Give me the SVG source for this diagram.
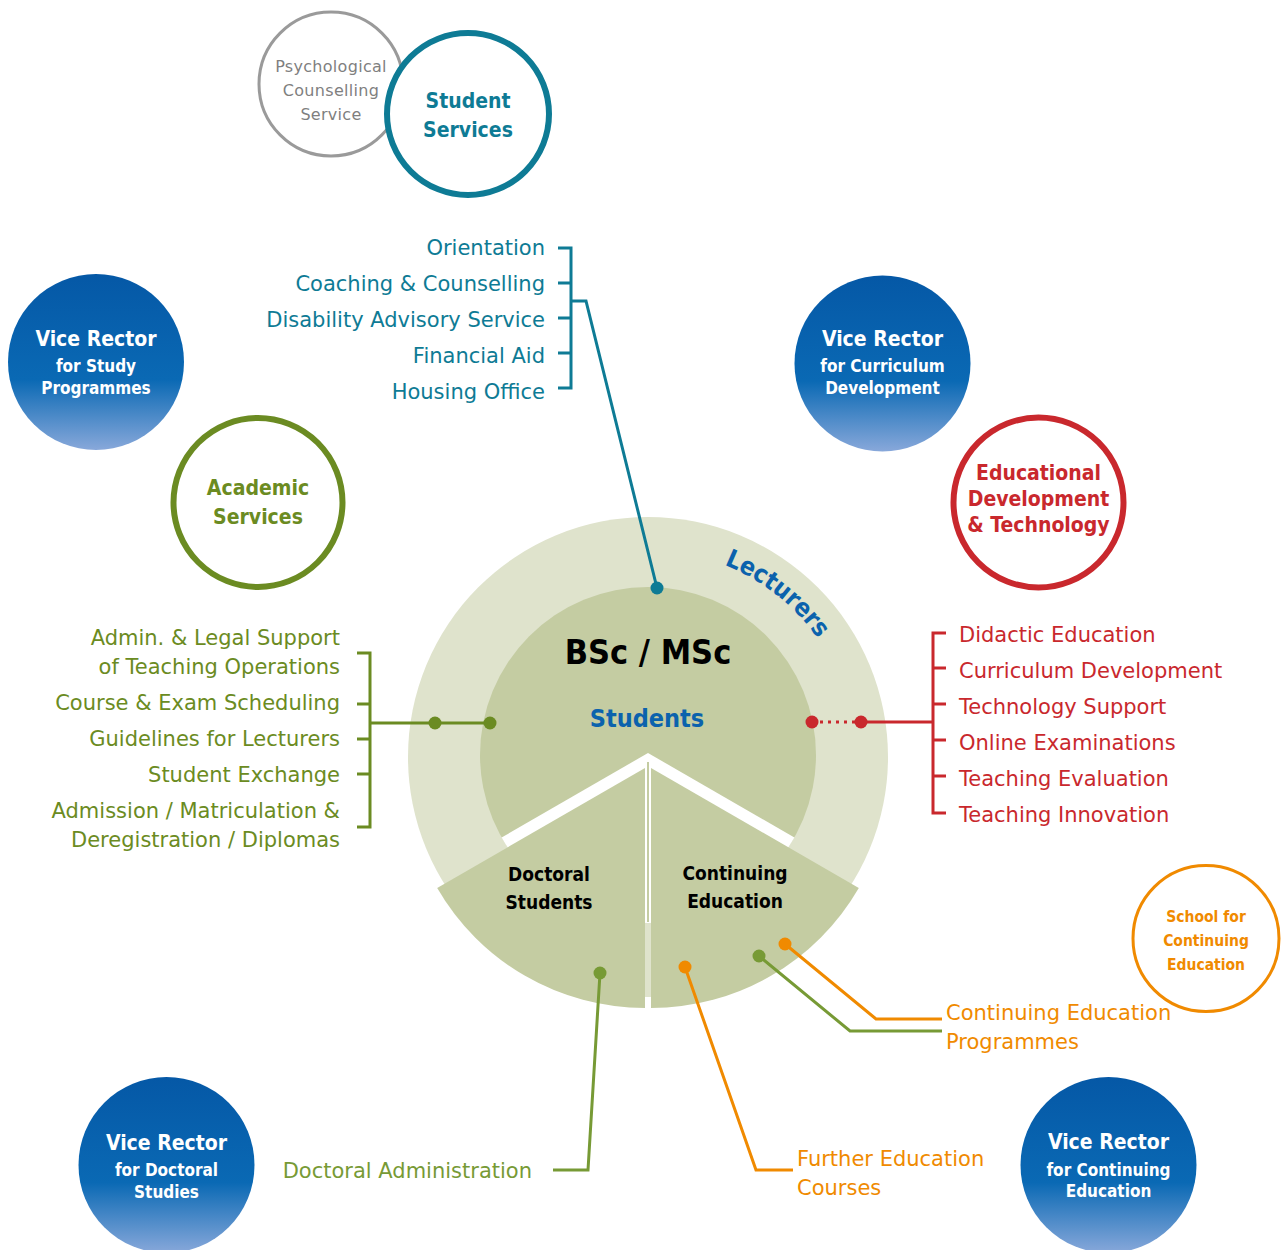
<svg xmlns="http://www.w3.org/2000/svg" width="1284" height="1250" viewBox="0 0 1284 1250">
<style>
.reg{font-family:"DejaVu Sans","Liberation Sans",sans-serif;font-size:21px}
.bold{font-family:"DejaVu Sans Condensed","DejaVu Sans","Liberation Sans",sans-serif;font-stretch:condensed;font-weight:bold}
.teal{fill:#0e7b95}.olive{fill:#6b8b22}.red{fill:#c9282d}.orange{fill:#f08a00}.blue{fill:#0b62ad}.lolive{fill:#779a35}
.vr{fill:#fff;text-anchor:middle}
.ln{fill:none;stroke-width:3;stroke-linejoin:miter}
</style>
<defs>
<linearGradient id="vrg" x1="0" y1="0" x2="0" y2="1">
<stop offset="0" stop-color="#0558a6"/>
<stop offset="0.6" stop-color="#0a69b4"/>
<stop offset="1" stop-color="#88a8da"/>
</linearGradient>
<path id="lecArc" d="M724.3,564.9 A207,207 0 0,1 842.5,686.2"/>
</defs>

<!-- top: student services -->
<g id="psych">
<circle cx="331" cy="84" r="72" fill="#fff" stroke="#9a9a9a" stroke-width="3"/>
<g class="reg" style="font-size:16px;fill:#7f7f7f;text-anchor:middle;letter-spacing:0.3px">
<text x="331" y="72">Psychological</text>
<text x="331" y="96">Counselling</text>
<text x="331" y="120">Service</text>
</g>
</g>
<g id="student-services">
<circle cx="468" cy="114" r="81" fill="#fff" stroke="#0e7b95" stroke-width="6"/>
<g class="bold teal" style="font-size:21px;text-anchor:middle">
<text x="468" y="108">Student</text>
<text x="468" y="137">Services</text>
</g>
</g>

<g id="teal-list" class="reg teal" style="text-anchor:end">
<text x="545" y="255">Orientation</text>
<text x="545" y="291">Coaching &amp; Counselling</text>
<text x="545" y="327">Disability Advisory Service</text>
<text x="545" y="363">Financial Aid</text>
<text x="545" y="399">Housing Office</text>
</g>

<!-- vice rectors -->
<g id="vr-study">
<circle cx="96" cy="362" r="88" fill="url(#vrg)"/>
<g class="bold vr"><text x="96" y="346" style="font-size:21px">Vice Rector</text>
<text x="96" y="372" style="font-size:17px">for Study</text>
<text x="96" y="394" style="font-size:17px">Programmes</text></g>
</g>
<g id="vr-curriculum">
<circle cx="882.5" cy="363.5" r="88" fill="url(#vrg)"/>
<g class="bold vr"><text x="882.5" y="346" style="font-size:21px">Vice Rector</text>
<text x="882.5" y="372" style="font-size:17px">for Curriculum</text>
<text x="882.5" y="394" style="font-size:17px">Development</text></g>
</g>
<g id="vr-doctoral">
<circle cx="166.5" cy="1165" r="88" fill="url(#vrg)"/>
<g class="bold vr"><text x="166.5" y="1150" style="font-size:21px">Vice Rector</text>
<text x="166.5" y="1176" style="font-size:17px">for Doctoral</text>
<text x="166.5" y="1198" style="font-size:17px">Studies</text></g>
</g>
<g id="vr-continuing">
<circle cx="1108.5" cy="1165" r="88" fill="url(#vrg)"/>
<g class="bold vr"><text x="1108.5" y="1149" style="font-size:21px">Vice Rector</text>
<text x="1108.5" y="1176" style="font-size:17px">for Continuing</text>
<text x="1108.5" y="1197" style="font-size:17px">Education</text></g>
</g>

<!-- academic services -->
<g id="academic-services">
<circle cx="258" cy="502.5" r="84.5" fill="#fff" stroke="#6b8b22" stroke-width="6"/>
<g class="bold olive" style="font-size:21px;text-anchor:middle">
<text x="258" y="495">Academic</text>
<text x="258" y="524">Services</text>
</g>
</g>
<g id="academic-list" class="reg olive" style="text-anchor:end">
<text x="340" y="645">Admin. &amp; Legal Support</text>
<text x="340" y="674">of Teaching Operations</text>
<text x="340" y="710">Course &amp; Exam Scheduling</text>
<text x="340" y="746">Guidelines for Lecturers</text>
<text x="340" y="782">Student Exchange</text>
<text x="340" y="818">Admission / Matriculation &amp;</text>
<text x="340" y="847">Deregistration / Diplomas</text>
</g>

<!-- educational development -->
<g id="edu-dev">
<circle cx="1038.5" cy="502.5" r="85" fill="#fff" stroke="#c9282d" stroke-width="6"/>
<g class="bold red" style="font-size:21px;text-anchor:middle">
<text x="1038.5" y="480">Educational</text>
<text x="1038.5" y="506">Development</text>
<text x="1038.5" y="532">&amp; Technology</text>
</g>
</g>
<g id="edu-list" class="reg red">
<text x="959" y="642">Didactic Education</text>
<text x="959" y="678">Curriculum Development</text>
<text x="959" y="714">Technology Support</text>
<text x="959" y="750">Online Examinations</text>
<text x="959" y="786">Teaching Evaluation</text>
<text x="959" y="822">Teaching Innovation</text>
</g>

<!-- school for continuing education -->
<g id="school-ce">
<circle cx="1206" cy="938.5" r="73" fill="#fff" stroke="#f08a00" stroke-width="3"/>
<g class="bold orange" style="font-size:15.5px;text-anchor:middle">
<text x="1206" y="922">School for</text>
<text x="1206" y="946">Continuing</text>
<text x="1206" y="970">Education</text>
</g>
</g>

<!-- central core -->
<g id="core">
<circle cx="648" cy="757" r="240" fill="#dfe3cc"/>
<circle cx="648" cy="755" r="168" fill="#c4cca2"/>
<path d="M648,753 L501.6,837.5 A168,168 0 0,0 794.4,837.5 Z" fill="#fff"/>
<rect x="647" y="762" width="2" height="160" fill="#c4cca2"/>
<path d="M645,768 L437.2,888 A240,240 0 0,0 645,1008 Z" fill="#c4cca2"/>
<path d="M651,768 L651,1008 A240,240 0 0,0 858.8,888 Z" fill="#c4cca2"/>
<text class="bold" x="648" y="664" style="font-size:34px;fill:#000;text-anchor:middle">BSc / MSc</text>
<text class="bold blue" x="647" y="727" style="font-size:25px;text-anchor:middle">Students</text>
<text class="bold blue" style="font-size:25px"><textPath href="#lecArc">Lecturers</textPath></text>
<g class="bold" style="font-size:19px;fill:#000;text-anchor:middle">
<text x="549" y="881">Doctoral</text>
<text x="549" y="909">Students</text>
<text x="735" y="880">Continuing</text>
<text x="735" y="908">Education</text>
</g>
</g>

<!-- bottom labels -->
<g id="bottom-labels" class="reg">
<text class="lolive" x="532" y="1178" style="text-anchor:end">Doctoral Administration</text>
<text class="orange" x="797" y="1166">Further Education</text>
<text class="orange" x="797" y="1195">Courses</text>
<text class="orange" x="946" y="1020">Continuing Education</text>
<text class="orange" x="946" y="1049">Programmes</text>
</g>

<!-- connectors -->
<g id="connectors">
<path class="ln" stroke="#0e7b95" d="M558,248 H571 V388 H558 M558,283 H571 M558,318 H571 M558,353 H571 M571,301 H586 L657,588"/>
<circle cx="657" cy="588" r="6.5" fill="#0e7b95"/>
<path class="ln" stroke="#6b8b22" d="M357,653 H370 V827 H357 M357,704 H370 M357,739 H370 M357,774 H370 M370,723 H490"/>
<circle cx="435" cy="723" r="6.5" fill="#6b8b22"/>
<circle cx="490" cy="723" r="6.5" fill="#6b8b22"/>
<path class="ln" stroke="#c9282d" d="M946,633 H933 V813 H946 M946,668 H933 M946,704 H933 M946,740 H933 M946,776 H933 M933,722 H861"/>
<path d="M820,722 H858" fill="none" stroke="#c9282d" stroke-width="3" stroke-dasharray="3 5"/>
<circle cx="812" cy="722" r="6.5" fill="#c9282d"/>
<circle cx="861" cy="722" r="6.5" fill="#c9282d"/>
<path class="ln" stroke="#779a35" d="M600,973 L588,1170 H553"/>
<circle cx="600" cy="973" r="6.5" fill="#779a35"/>
<path class="ln" stroke="#f08a00" d="M685,967 L756,1170 H793"/>
<circle cx="685" cy="967" r="6.5" fill="#f08a00"/>
<path class="ln" stroke="#f08a00" d="M785,944 L876,1019 H942"/>
<circle cx="785" cy="944" r="6.5" fill="#f08a00"/>
<path class="ln" stroke="#779a35" d="M759,956 L850,1031 H942"/>
<circle cx="759" cy="956" r="6.5" fill="#779a35"/>
</g>
</svg>
